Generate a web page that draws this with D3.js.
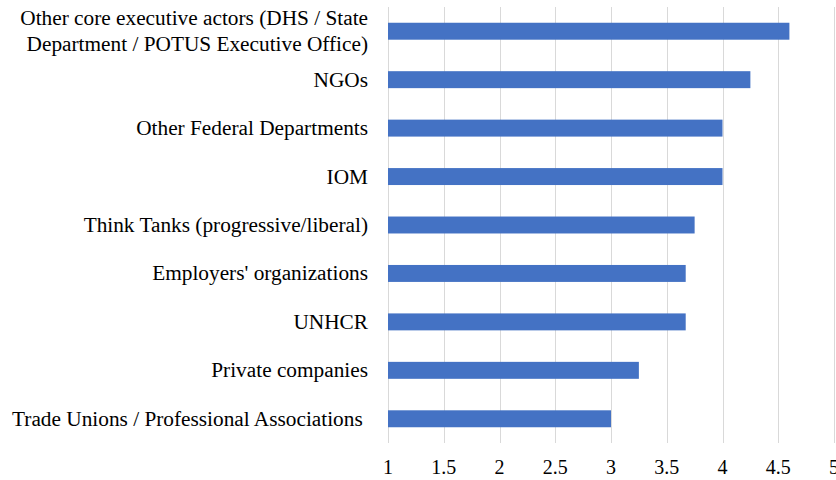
<html>
<script src='https://d3js.org/d3.v7.min.js'></script>
<style> body {margin:0;} text {font-family: 'Liberation Serif', 'Times New Roman', serif; fill:#000;} </style>
<body onload='init()'>
<svg width=836 height=480></svg>
<script>
var categories = [
	["Other core executive actors (DHS / State", "Department / POTUS Executive Office)"],
	["NGOs"],
	["Other Federal Departments"],
	["IOM"],
	["Think Tanks (progressive/liberal)"],
	["Employers' organizations"],
	["UNHCR"],
	["Private companies"],
	["Trade Unions / Professional Associations "]
];
var values = [4.6, 4.25, 4.0, 4.0, 3.75, 3.67, 3.67, 3.25, 3.0];
var ticks = [1, 1.5, 2, 2.5, 3, 3.5, 4, 4.5, 5];

function init() {
	var left = 388, right = 834, top = 7, bottom = 443;
	var svg = d3.select("svg");
	var x = d3.scaleLinear().domain([1, 5]).range([left, right]);
	var y = d3.scaleBand().domain(d3.range(values.length)).range([top, bottom]).paddingInner(0.65).paddingOuter(0.325);

	svg.append("g").selectAll("line").data(ticks).enter().append("line")
		.attr("x1", function(d){return Math.round(x(d)) + 0.5;}).attr("x2", function(d){return Math.round(x(d)) + 0.5;})
		.attr("y1", top).attr("y2", bottom)
		.attr("stroke", "#d9d9d9").attr("stroke-width", 1);

	svg.append("g").selectAll("rect").data(values).enter().append("rect")
		.attr("x", x(1)).attr("y", function(d, i){return y(i);})
		.attr("width", function(d){return x(d) - x(1);}).attr("height", y.bandwidth())
		.attr("fill", "#4472c4");

	var labels = svg.append("g").selectAll("text").data(categories).enter().append("text")
		.attr("x", 368).attr("text-anchor", "end").style("font-size", "21.3px").attr("xml:space", "preserve")
		.attr("y", function(d, i){return y(i) + y.bandwidth() / 2 + 7 - (d.length - 1) * 13;});
	labels.selectAll("tspan").data(function(d){return d;}).enter().append("tspan")
		.attr("x", 368).attr("dy", function(d, j){return j == 0 ? 0 : 26;}).text(function(d){return d;});

	svg.append("g").selectAll("text").data(ticks).enter().append("text")
		.attr("x", function(d){return x(d);}).attr("y", 474).attr("text-anchor", "middle")
		.style("font-size", "20px").text(function(d){return d;});
}
</script>
</body>
</html>
